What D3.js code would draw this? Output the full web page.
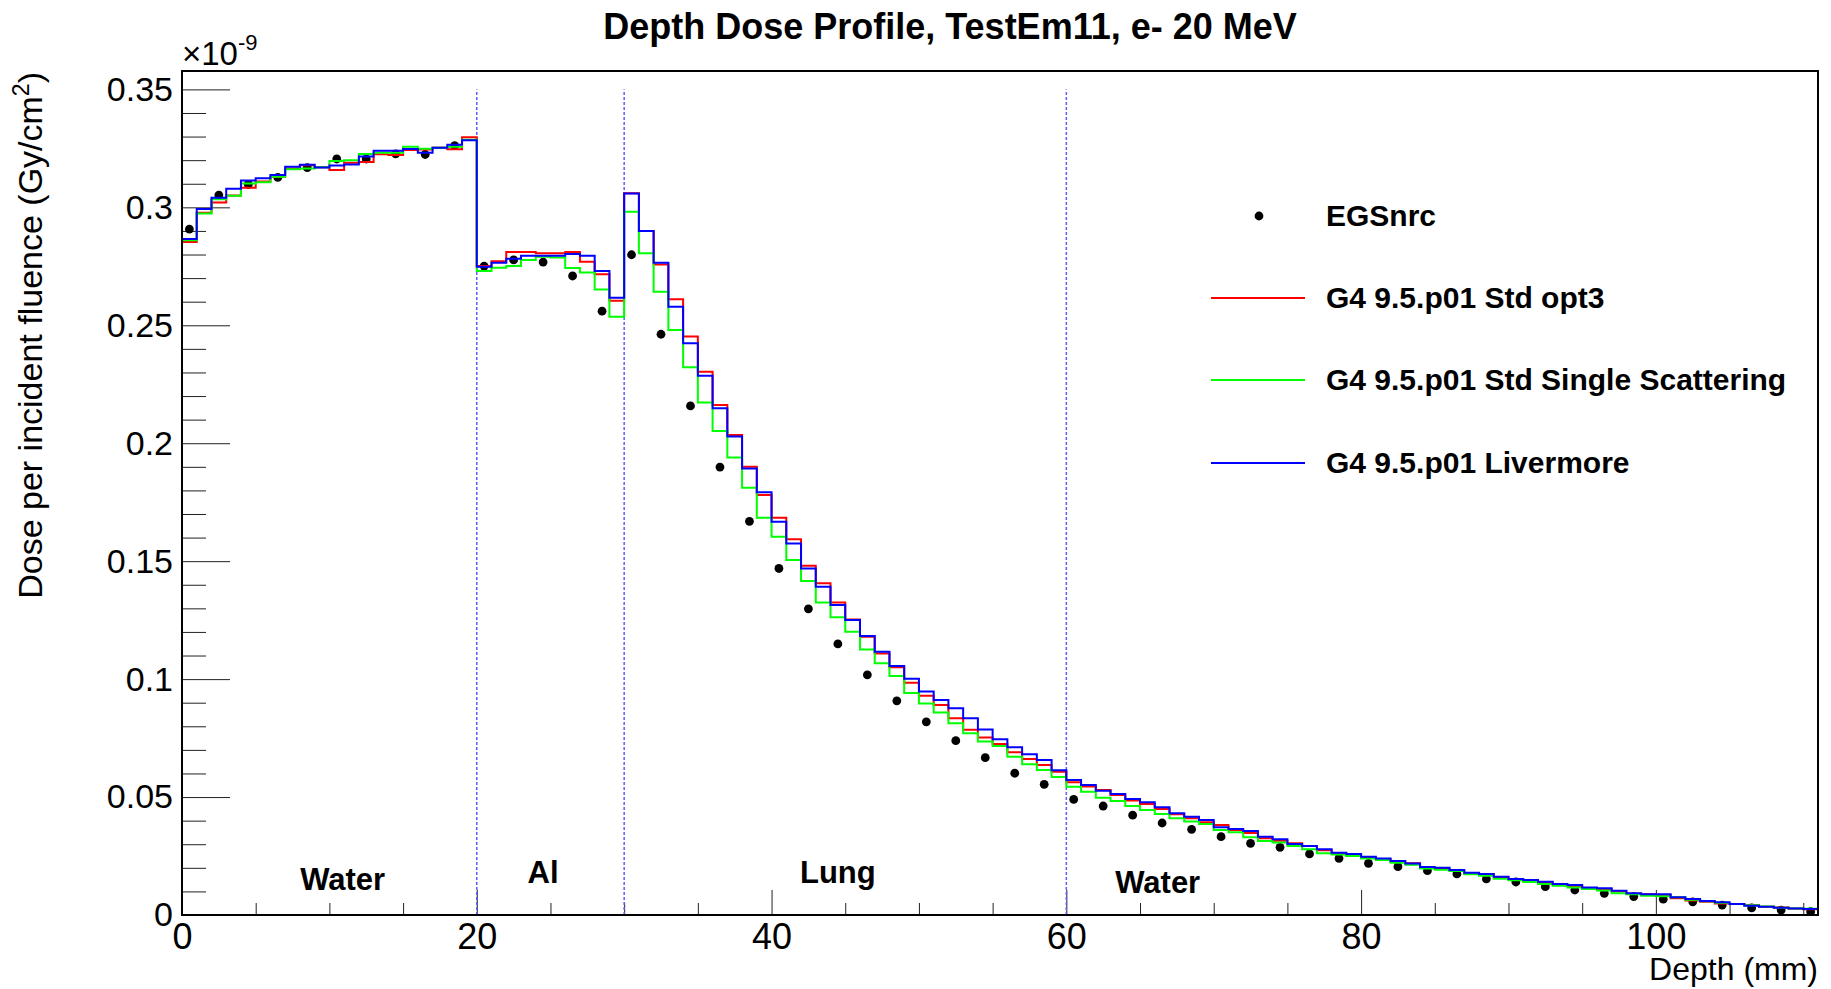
<!DOCTYPE html>
<html>
<head>
<meta charset="utf-8">
<title>Depth Dose Profile, TestEm11, e- 20 MeV</title>
<script src="https://cdn.jsdelivr.net/npm/d3@7"></script>
<style>
  html, body { margin: 0; padding: 0; background: #fff; }
  svg { display: block; font-family: "Liberation Sans", Arial, Helvetica, sans-serif; }
</style>
</head>
<body>
<svg id="svg"></svg>
<script>
'use strict';

// 1 mm bins from 0 to 111 mm, dose in units of 1e-9 Gy/cm2
var binEdges = d3.range(0, 112);

var livermore = [
  0.2866, 0.2993, 0.3041, 0.3079, 0.3114, 0.3123, 0.3137, 0.3172, 0.3181, 0.3169,
  0.3177, 0.3182, 0.3216, 0.3240, 0.3240, 0.3247, 0.3231, 0.3253, 0.3265, 0.3284,
  0.2748, 0.2765, 0.2782, 0.2795, 0.2795, 0.2795, 0.2802, 0.2795, 0.2730, 0.2617,
  0.3059, 0.2900, 0.2765, 0.2579, 0.2424, 0.2286, 0.2148, 0.2028, 0.1893, 0.1792,
  0.1667, 0.1575, 0.1469, 0.1392, 0.1314, 0.1251, 0.1183, 0.1116, 0.1056, 0.1002,
  0.0947, 0.0911, 0.0876, 0.0834, 0.0786, 0.0745, 0.0711, 0.0682, 0.0657, 0.0614,
  0.0572, 0.0551, 0.0527, 0.0513, 0.0492, 0.0478, 0.0457, 0.0431, 0.0417, 0.0403,
  0.0372, 0.0365, 0.0356, 0.0332, 0.0321, 0.0301, 0.0292, 0.0279, 0.0264, 0.0259,
  0.0247, 0.0240, 0.0229, 0.0218, 0.0203, 0.0200, 0.0191, 0.0179, 0.0174, 0.0162,
  0.0153, 0.0148, 0.0141, 0.0131, 0.0127, 0.0117, 0.0113, 0.0103, 0.0092, 0.0088,
  0.0088, 0.0075, 0.0068, 0.0059, 0.0054, 0.0047, 0.0039, 0.0035, 0.0031, 0.0028,
  0.0025
];

var opt3 = [
  0.2853, 0.2977, 0.3020, 0.3050, 0.3083, 0.3110, 0.3130, 0.3165, 0.3178, 0.3170,
  0.3158, 0.3189, 0.3192, 0.3225, 0.3222, 0.3243, 0.3245, 0.3253, 0.3246, 0.3297,
  0.2751, 0.2771, 0.2811, 0.2811, 0.2805, 0.2805, 0.2811, 0.2769, 0.2716, 0.2604,
  0.3060, 0.2900, 0.2758, 0.2610, 0.2452, 0.2303, 0.2162, 0.2035, 0.1900, 0.1780,
  0.1684, 0.1593, 0.1481, 0.1406, 0.1325, 0.1253, 0.1180, 0.1109, 0.1050, 0.0985,
  0.0930, 0.0890, 0.0834, 0.0785, 0.0753, 0.0725, 0.0690, 0.0661, 0.0636, 0.0607,
  0.0563, 0.0545, 0.0530, 0.0509, 0.0485, 0.0471, 0.0449, 0.0427, 0.0410, 0.0393,
  0.0382, 0.0360, 0.0348, 0.0325, 0.0315, 0.0304, 0.0293, 0.0274, 0.0259, 0.0255,
  0.0244, 0.0236, 0.0226, 0.0219, 0.0200, 0.0195, 0.0188, 0.0176, 0.0174, 0.0159,
  0.0151, 0.0144, 0.0138, 0.0127, 0.0123, 0.0113, 0.0109, 0.0101, 0.0090, 0.0088,
  0.0085, 0.0071, 0.0061, 0.0056, 0.0049, 0.0047, 0.0042, 0.0035, 0.0032, 0.0028,
  0.0024
];

var singleScat = [
  0.2860, 0.2974, 0.3034, 0.3049, 0.3101, 0.3106, 0.3130, 0.3162, 0.3165, 0.3170,
  0.3196, 0.3200, 0.3226, 0.3231, 0.3231, 0.3257, 0.3248, 0.3253, 0.3257, 0.3287,
  0.2730, 0.2744, 0.2751, 0.2777, 0.2791, 0.2787, 0.2743, 0.2724, 0.2652, 0.2536,
  0.2981, 0.2805, 0.2642, 0.2480, 0.2322, 0.2173, 0.2052, 0.1939, 0.1811, 0.1684,
  0.1604, 0.1505, 0.1416, 0.1325, 0.1262, 0.1201, 0.1126, 0.1067, 0.1013, 0.0941,
  0.0897, 0.0858, 0.0813, 0.0770, 0.0735, 0.0716, 0.0671, 0.0639, 0.0615, 0.0585,
  0.0544, 0.0523, 0.0497, 0.0483, 0.0462, 0.0445, 0.0428, 0.0410, 0.0396, 0.0386,
  0.0360, 0.0351, 0.0330, 0.0314, 0.0307, 0.0292, 0.0279, 0.0262, 0.0257, 0.0250,
  0.0239, 0.0233, 0.0222, 0.0213, 0.0197, 0.0192, 0.0187, 0.0173, 0.0166, 0.0154,
  0.0147, 0.0140, 0.0131, 0.0124, 0.0117, 0.0110, 0.0104, 0.0092, 0.0088, 0.0082,
  0.0079, 0.0075, 0.0065, 0.0058, 0.0052, 0.0047, 0.0041, 0.0036, 0.0031, 0.0028,
  0.0027
];

var egsDepth = [
  0.5, 2.5, 4.5, 6.5, 8.5, 10.5, 12.5, 14.5, 16.5, 18.5,
  20.5, 22.5, 24.5, 26.5, 28.5, 30.5, 32.5, 34.5, 36.5, 38.5,
  40.5, 42.5, 44.5, 46.5, 48.5, 50.5, 52.5, 54.5, 56.5, 58.5,
  60.5, 62.5, 64.5, 66.5, 68.5, 70.5, 72.5, 74.5, 76.5, 78.5,
  80.5, 82.5, 84.5, 86.5, 88.5, 90.5, 92.5, 94.5, 96.5, 98.5,
  100.5, 102.5, 104.5, 106.5, 108.5, 110.5
];
var egsDose = [
  0.2908, 0.3052, 0.3097, 0.3127, 0.3168, 0.3205, 0.3205, 0.3227, 0.3224, 0.3262,
  0.2751, 0.2777, 0.2768, 0.2709, 0.2560, 0.2799, 0.2462, 0.2158, 0.1899, 0.1669,
  0.1469, 0.1298, 0.1149, 0.1018, 0.0908, 0.0819, 0.0739, 0.0667, 0.0601, 0.0554,
  0.0490, 0.0462, 0.0423, 0.0390, 0.0363, 0.0332, 0.0304, 0.0287, 0.0259, 0.0240,
  0.0219, 0.0205, 0.0188, 0.0174, 0.0153, 0.0140, 0.0120, 0.0106, 0.0092, 0.0078,
  0.0067, 0.0056, 0.0042, 0.0030, 0.0021, 0.0014
];

var yTicks = [0, 0.05, 0.1, 0.15, 0.2, 0.25, 0.3, 0.35];
var yTickLabels = ['0', '0.05', '0.1', '0.15', '0.2', '0.25', '0.3', '0.35'];
var xTicks = [0, 20, 40, 60, 80, 100];

var slabEdges = [20, 30, 60];
var slabNames = ['Water', 'Al', 'Lung', 'Water'];
var slabNameX = [10.9, 24.5, 44.5, 66.2];
var slabNameY = [0.0106, 0.0137, 0.0137, 0.0093];

var seriesNames = ['EGSnrc', 'G4 9.5.p01 Std opt3', 'G4 9.5.p01 Std Single Scattering', 'G4 9.5.p01 Livermore'];
var seriesColors = ['#000000', '#ff0000', '#00ff00', '#0000ff'];

var W = 1831, H = 989;
var svg = d3.select('#svg').attr('width', W).attr('height', H);

var x = d3.scaleLinear().domain([0, 111]).range([182, 1818]);
var y = d3.scaleLinear().domain([0, 0.3578]).range([915, 71]);

// ticks (drawn inwards like ROOT)
var minorY = d3.range(0, 36).map(function(i) { return i / 100; })
    .filter(function(v) { return yTicks.indexOf(v) < 0; });
var minorX = d3.range(0, 23).map(function(i) { return i * 5; })
    .filter(function(v) { return xTicks.indexOf(v) < 0 && v <= 111; });

svg.append('g').attr('transform', 'translate(182,0)')
    .call(d3.axisLeft(y).tickValues(minorY).tickSize(-24).tickFormat(''))
    .call(function(g) { g.select('.domain').remove(); });
svg.append('g').attr('transform', 'translate(182,0)')
    .call(d3.axisLeft(y).tickValues(yTicks).tickSize(-48).tickPadding(9)
        .tickFormat(function(d, i) { return yTickLabels[i]; }))
    .call(function(g) { g.select('.domain').remove(); })
    .call(function(g) {
      g.selectAll('text').attr('font-size', 34).attr('font-family', 'Liberation Sans').attr('fill', '#000');
    });

svg.append('g').attr('transform', 'translate(0,915)')
    .call(d3.axisBottom(x).tickValues(minorX).tickSize(-12).tickFormat(''))
    .call(function(g) { g.select('.domain').remove(); });
svg.append('g').attr('transform', 'translate(0,915)')
    .call(d3.axisBottom(x).tickValues(xTicks).tickSize(-25).tickPadding(8).tickFormat(d3.format('d')))
    .call(function(g) { g.select('.domain').remove(); })
    .call(function(g) {
      g.selectAll('text').attr('font-size', 36).attr('font-family', 'Liberation Sans').attr('fill', '#000');
    });

svg.selectAll('.tick line').attr('stroke', '#222').attr('stroke-width', 1);

// material boundaries
svg.selectAll('line.slab')
    .data(slabEdges)
  .enter().append('line')
    .attr('class', 'slab')
    .attr('x1', function(d) { return x(d); })
    .attr('x2', function(d) { return x(d); })
    .attr('y1', y(0))
    .attr('y2', y(0.35))
    .attr('stroke', '#5c5cff')
    .attr('stroke-width', 1.5)
    .attr('stroke-dasharray', '3,2');

svg.selectAll('text.slab')
    .data(slabNames)
  .enter().append('text')
    .attr('class', 'slab')
    .attr('x', function(d, i) { return x(slabNameX[i]); })
    .attr('y', function(d, i) { return y(slabNameY[i]); })
    .attr('text-anchor', 'middle')
    .attr('font-size', 31)
    .attr('font-weight', 'bold')
    .text(function(d) { return d; });

// EGSnrc points go under the histograms
svg.selectAll('circle.egs')
    .data(egsDose)
  .enter().append('circle')
    .attr('class', 'egs')
    .attr('cx', function(d, i) { return x(egsDepth[i]); })
    .attr('cy', function(d) { return y(d); })
    .attr('r', 4.4)
    .attr('fill', '#000');

// histograms as step lines
var step = d3.line()
    .curve(d3.curveStepAfter)
    .x(function(d) { return x(d[0]); })
    .y(function(d) { return y(d[1]); });

function histPoints(vals) {
  return binEdges.map(function(e, i) {
    return [e, vals[Math.min(i, vals.length - 1)]];
  });
}

var hists = [opt3, singleScat, livermore];
svg.selectAll('path.hist')
    .data(hists)
  .enter().append('path')
    .attr('class', 'hist')
    .attr('d', function(d) { return step(histPoints(d)); })
    .attr('fill', 'none')
    .attr('stroke', function(d, i) { return seriesColors[i + 1]; })
    .attr('stroke-width', 2);

// frame
svg.append('rect')
    .attr('x', 182).attr('y', 71)
    .attr('width', 1818 - 182).attr('height', 915 - 71)
    .attr('fill', 'none').attr('stroke', '#000').attr('stroke-width', 2);

// title and axis titles
svg.append('text')
    .attr('x', 950).attr('y', 39)
    .attr('text-anchor', 'middle')
    .attr('font-size', 36).attr('font-weight', 'bold')
    .text('Depth Dose Profile, TestEm11, e- 20 MeV');

var expo = svg.append('text').attr('x', 182).attr('y', 65).attr('font-size', 33);
expo.append('tspan').text('\u00d710');
expo.append('tspan').attr('dy', -15).attr('font-size', 22).text('-9');

svg.append('text')
    .attr('x', 1818).attr('y', 980)
    .attr('text-anchor', 'end')
    .attr('font-size', 32)
    .text('Depth (mm)');

var ytitle = svg.append('text')
    .attr('transform', 'translate(42,72) rotate(-90)')
    .attr('text-anchor', 'end')
    .attr('font-size', 34);
ytitle.append('tspan').text('Dose per incident fluence (Gy/cm');
ytitle.append('tspan').attr('dy', -13).attr('font-size', 23).text('2');
ytitle.append('tspan').attr('dy', 13).text(')');

// legend
var legendY = [216, 298, 380, 463];
var legend = svg.append('g');
legend.append('circle')
    .attr('cx', 1259).attr('cy', legendY[0]).attr('r', 4.4).attr('fill', seriesColors[0]);
legend.selectAll('line')
    .data(seriesNames.slice(1))
  .enter().append('line')
    .attr('x1', 1211).attr('x2', 1305)
    .attr('y1', function(d, i) { return legendY[i + 1]; })
    .attr('y2', function(d, i) { return legendY[i + 1]; })
    .attr('stroke', function(d, i) { return seriesColors[i + 1]; })
    .attr('stroke-width', 2);
legend.selectAll('text')
    .data(seriesNames)
  .enter().append('text')
    .attr('x', 1326)
    .attr('y', function(d, i) { return legendY[i] + 10; })
    .attr('font-size', 30)
    .attr('font-weight', 'bold')
    .text(function(d) { return d; });
</script>
</body>
</html>
